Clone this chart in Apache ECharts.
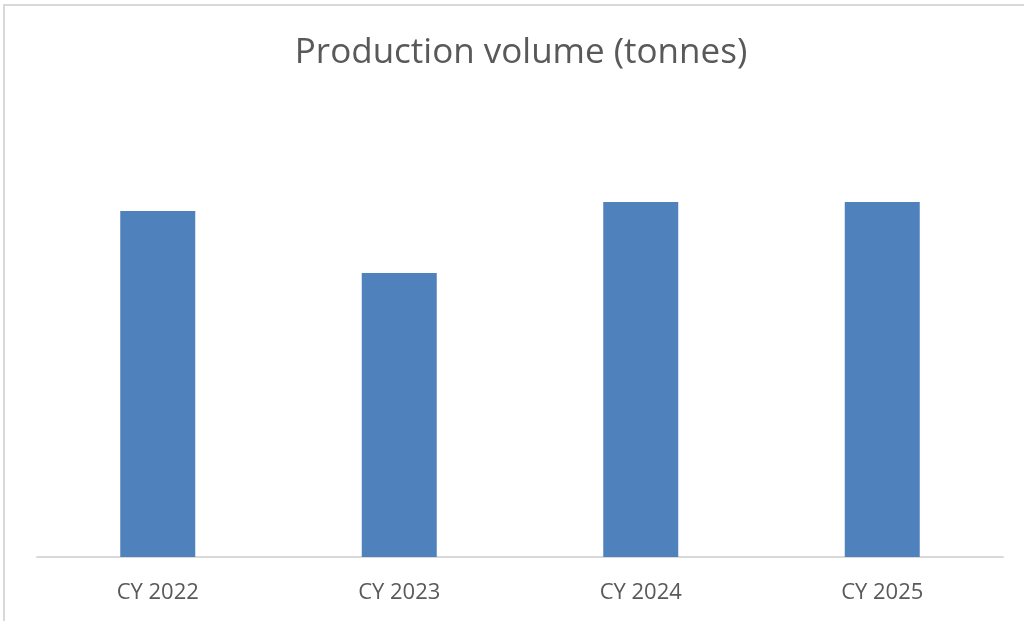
<!DOCTYPE html>
<html><head><meta charset="utf-8">
<script src="https://cdn.jsdelivr.net/npm/echarts@6/dist/echarts.min.js"></script>
<style>html,body{margin:0;padding:0;background:#fff}#c{width:1024px;height:621px}</style>
</head><body><div id="c"></div>
<script>
const categories = ["CY 2022", "CY 2023", "CY 2024", "CY 2025"];
const production = [346, 284, 355, 355];

const chart = echarts.init(document.getElementById('c'));
chart.setOption({
  animation: false,
  backgroundColor: '#fff',
  graphic: [{
    type: 'rect', shape: {x: 4, y: 5, width: 1030, height: 640},
    style: {fill: 'none', stroke: '#d9d9d9', lineWidth: 2}, silent: true
  }],
  title: {
    text: 'Production volume (tonnes)', left: 516, top: 31, textAlign: 'center',
    textStyle: {fontFamily: 'Open Sans', fontWeight: 'normal', fontSize: 35, color: '#595959'}
  },
  grid: {left: 37, right: 21, top: 157, bottom: 64},
  xAxis: {
    type: 'category', data: categories,
    axisLine: {lineStyle: {color: '#d9d9d9', width: 2}},
    axisTick: {show: false},
    axisLabel: {fontFamily: 'Open Sans', fontSize: 22, color: '#595959', margin: 25}
  },
  yAxis: {type: 'value', min: 0, max: 400, show: false, splitLine: {show: false}},
  series: [{
    type: 'bar', data: production, barWidth: 75,
    itemStyle: {color: '#4f81bd'}
  }]
});
</script></body></html>
